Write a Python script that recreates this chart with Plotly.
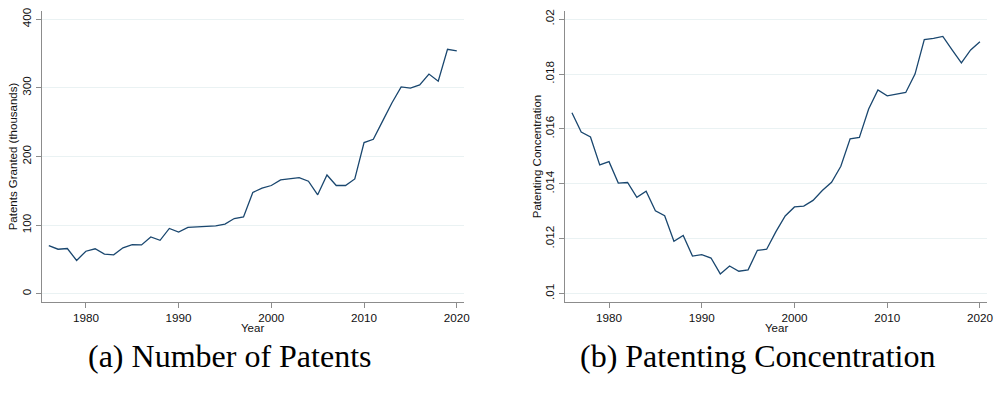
import plotly.graph_objects as go

# Annual series, 1976-2020
years = list(range(1976, 2021))

patents_thousands = [
    70.2, 64.9, 65.9, 48.6, 62.0, 65.5, 57.7, 56.8, 66.9, 71.7,
    71.2, 82.8, 77.9, 95.2, 90.0, 96.6, 97.6, 98.0, 99.0, 101.5,
    109.6, 112.0, 147.6, 153.9, 157.7, 165.8, 167.3, 169.3, 164.0, 144.2,
    173.0, 157.7, 157.7, 167.3, 220.2, 225.0, 251.5, 277.9, 301.4, 299.5,
    304.3, 320.1, 309.6, 356.2, 353.9,
]

concentration = [
    0.01659, 0.01589, 0.01571, 0.01469, 0.01481, 0.01403, 0.01405, 0.01351, 0.01373, 0.01302,
    0.01284, 0.01191, 0.01212, 0.01137, 0.01142, 0.01130, 0.01072, 0.01101, 0.01082, 0.01087,
    0.01158, 0.01162, 0.01226, 0.01283, 0.01316, 0.01319, 0.01340, 0.01376, 0.01406, 0.01464,
    0.01564, 0.01569, 0.01673, 0.01742, 0.01721, 0.01727, 0.01733, 0.01800, 0.01926, 0.01930,
    0.01937, 0.01888, 0.01841, 0.01888, 0.01918,
]

x_ticks = [1980, 1990, 2000, 2010, 2020]
left_ticks = [0, 100, 200, 300, 400]
left_labels = ["0", "100", "200", "300", "400"]
right_ticks = [0.010, 0.012, 0.014, 0.016, 0.018, 0.020]
right_labels = [".01", ".012", ".014", ".016", ".018", ".02"]

titles = {
    "left_y": "Patents Granted (thousands)",
    "right_y": "Patenting Concentration",
    "x": "Year",
    "cap_a": "(a) Number of Patents",
    "cap_b": "(b) Patenting Concentration",
}

W, H = 1000, 398
LINE = "#1a476f"
GRID = "#eaf2f3"
AXIS = "#8c8c8c"
SANS = "Liberation Sans, Arial, sans-serif"
SERIF = "Liberation Serif, Times New Roman, serif"


def px_x(p):
    return p / W


def px_y(p):
    return 1 - p / H


fig = go.Figure()
fig.add_trace(go.Scatter(x=years, y=patents_thousands, mode="lines",
                         line=dict(color=LINE, width=1.3),
                         xaxis="x", yaxis="y", showlegend=False))
fig.add_trace(go.Scatter(x=years, y=concentration, mode="lines",
                         line=dict(color=LINE, width=1.3),
                         xaxis="x2", yaxis="y2", showlegend=False))

y_dom = [px_y(300.7), px_y(7)]
x_common = dict(
    range=[1975.24, 2020.8], tickvals=x_ticks, ticks="outside", ticklen=5,
    tickwidth=1.2, tickcolor=AXIS, showline=True, linecolor=AXIS, linewidth=1.3,
    showgrid=False, zeroline=False, tickfont=dict(family=SANS, size=11.7, color="#111"),
)
y_common = dict(
    ticks="outside", ticklen=5, tickwidth=1.2, tickcolor=AXIS, showline=True,
    linecolor=AXIS, linewidth=1.3, showgrid=True, gridcolor=GRID, gridwidth=1.3,
    zeroline=False, tickangle=-90, tickfont=dict(family=SANS, size=11.7, color="#111"),
    domain=y_dom,
)

fig.update_layout(
    width=W, height=H, margin=dict(l=0, r=0, t=0, b=0),
    paper_bgcolor="white", plot_bgcolor="white",
    xaxis=dict(domain=[px_x(42), px_x(467)], anchor="y", **x_common),
    yaxis=dict(anchor="x", range=[-11.5, 412], tickvals=left_ticks,
               ticktext=left_labels, **y_common),
    xaxis2=dict(domain=[px_x(568.3), px_x(993.3)], anchor="y2", **x_common),
    yaxis2=dict(anchor="x2", range=[0.00971, 0.0203], tickvals=right_ticks,
                ticktext=right_labels, **y_common),
)

ann = []
title_font = dict(family=SANS, size=11.5, color="#111")
for cx in (254.5, 780.8):
    ann.append(dict(text=titles["x"], x=px_x(cx), y=px_y(327), xref="paper", yref="paper",
                    xanchor="center", yanchor="middle", showarrow=False, font=title_font))
ann.append(dict(text=titles["left_y"], x=px_x(14), y=px_y(154), xref="paper", yref="paper",
                xanchor="center", yanchor="middle", textangle=-90, showarrow=False,
                font=title_font))
ann.append(dict(text=titles["right_y"], x=px_x(541), y=px_y(154), xref="paper", yref="paper",
                xanchor="center", yanchor="middle", textangle=-90, showarrow=False,
                font=title_font))
cap_font = dict(family=SERIF, size=32, color="black")
ann.append(dict(text=titles["cap_a"], x=px_x(231), y=px_y(356), xref="paper", yref="paper",
                xanchor="center", yanchor="middle", showarrow=False, font=cap_font))
ann.append(dict(text=titles["cap_b"], x=px_x(762), y=px_y(356), xref="paper", yref="paper",
                xanchor="center", yanchor="middle", showarrow=False, font=cap_font))
fig.update_layout(annotations=ann)

fig.write_html("out.html")
